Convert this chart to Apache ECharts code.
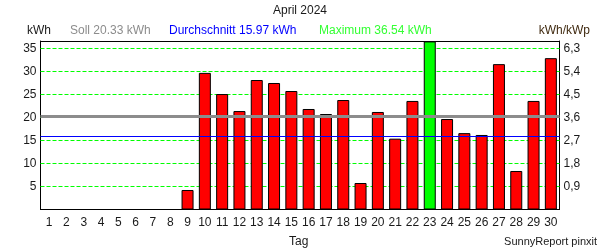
<!DOCTYPE html>
<html>
<head>
<meta charset="utf-8">
<script src="https://cdn.jsdelivr.net/npm/echarts@6/dist/echarts.min.js"></script>
<style>html,body{margin:0;padding:0;background:#fff}#c{width:600px;height:250px}</style>
</head>
<body>
<div id="c"></div>
<script>
var days = ['1','2','3','4','5','6','7','8','9','10','11','12','13','14','15','16','17','18','19','20','21','22','23','24','25','26','27','28','29','30'];
var energy = [0,0,0,0,0,0,0,0,4.24,29.7,25.1,21.4,28.15,27.5,25.76,21.85,20.76,23.8,5.76,21.2,15.4,23.6,36.54,19.67,16.6,16.2,31.6,8.37,23.6,32.9];
var soll = 20.33;
var durchschnitt = 15.97;
var maximum = 36.54;
var specificFactor = 0.18; // kWh/kWp per kWh
var leftTicks = [5,10,15,20,25,30,35];
var rightTicks = ['0,9','1,8','2,7','3,6','4,5','5,4','6,3'];

var font = 'Liberation Sans, Arial, sans-serif';
var txt = '#1a1a1a';
var axisMax = 36.63;
var chart = echarts.init(document.getElementById('c'), null, {renderer:'canvas'});
var barData = energy.map(function(v){
  if (!v) return '-';
  return {value: v, itemStyle: {color: v === maximum ? '#00ff00' : '#ff0000', borderColor:'#000', borderWidth:1}};
});
chart.setOption({
  animation:false,
  backgroundColor:'#fff',
  textStyle:{fontFamily:font},
  title:{text:'April 2024', left:'center', top:0, textStyle:{fontSize:12, fontWeight:'normal', color:txt, fontFamily:font}},
  graphic:[
    {type:'text', left:27, top:25, style:{text:'kWh', fill:txt, font:'12px '+font}},
    {type:'text', left:70, top:25, style:{text:'Soll '+soll.toFixed(2)+' kWh', fill:'#8c8c8c', font:'12px '+font}},
    {type:'text', left:169, top:25, style:{text:'Durchschnitt '+durchschnitt.toFixed(2)+' kWh', fill:'#0000ff', font:'12px '+font}},
    {type:'text', left:319, top:25, style:{text:'Maximum '+maximum.toFixed(2)+' kWh', fill:'#33ff33', font:'12px '+font}},
    {type:'text', right:10, top:25, style:{text:'kWh/kWp', fill:'#402a10', font:'12px '+font}},
    {type:'text', left:289, top:236, style:{text:'Tag', fill:txt, font:'12px '+font}},
    {type:'text', right:3, top:236, style:{text:'SunnyReport pinxit', fill:txt, font:'11px '+font}}
  ],
  grid:{left:40.5, right:40.5, top:41, bottom:40.5, show:false},
  xAxis:[
    {type:'category', data:days, position:'bottom', axisTick:{show:false}, axisLine:{show:true, onZero:false, lineStyle:{color:'#000', width:1}},
      splitLine:{show:false},
      axisLabel:{color:txt, fontSize:12, fontFamily:font, margin:7, interval:0}},
    {type:'category', data:days, position:'top', axisTick:{show:false}, axisLabel:{show:false}, splitLine:{show:false},
      axisLine:{show:true, onZero:false, lineStyle:{color:'#000', width:1}}}
  ],
  yAxis:[
    {type:'value', min:0, max:axisMax, interval:5,
      axisLine:{show:true, onZero:false, lineStyle:{color:'#000', width:1}}, axisTick:{show:false},
      splitLine:{show:false},
      axisLabel:{color:txt, fontSize:12, fontFamily:font, margin:4, showMaxLabel:false,
        formatter:function(v){return leftTicks.indexOf(v)>=0 ? String(v) : '';}}},
    {type:'value', min:0, max:axisMax*specificFactor, interval:5*specificFactor,
      axisLine:{show:true, onZero:false, lineStyle:{color:'#000', width:1}}, axisTick:{show:false}, splitLine:{show:false},
      axisLabel:{color:txt, fontSize:12, fontFamily:font, margin:4, showMaxLabel:false,
        formatter:function(v){var i=Math.round(v/(5*specificFactor)); return (i>=1 && i<=rightTicks.length) ? rightTicks[i-1] : '';}}}
  ],
  series:[
    {type:'line', data:[], yAxisIndex:0, silent:true, z:1,
      markLine:{silent:true, symbol:'none', label:{show:false}, z:1, animation:false,
        lineStyle:{color:'#00ff00', width:1, type:[4,2]},
        data:leftTicks.map(function(t){return {yAxis:t};})}},
    {type:'bar', data:barData, barWidth:12, yAxisIndex:0, z:2,
      markLine:{silent:true, symbol:'none', label:{show:false}, z:5,
        data:[
          {yAxis:soll, lineStyle:{color:'#8c8c8c', width:3, type:'solid'}},
          {yAxis:durchschnitt, lineStyle:{color:'#0000ff', width:1, type:'solid'}}
        ]}}
  ]
});
</script>
</body>
</html>
